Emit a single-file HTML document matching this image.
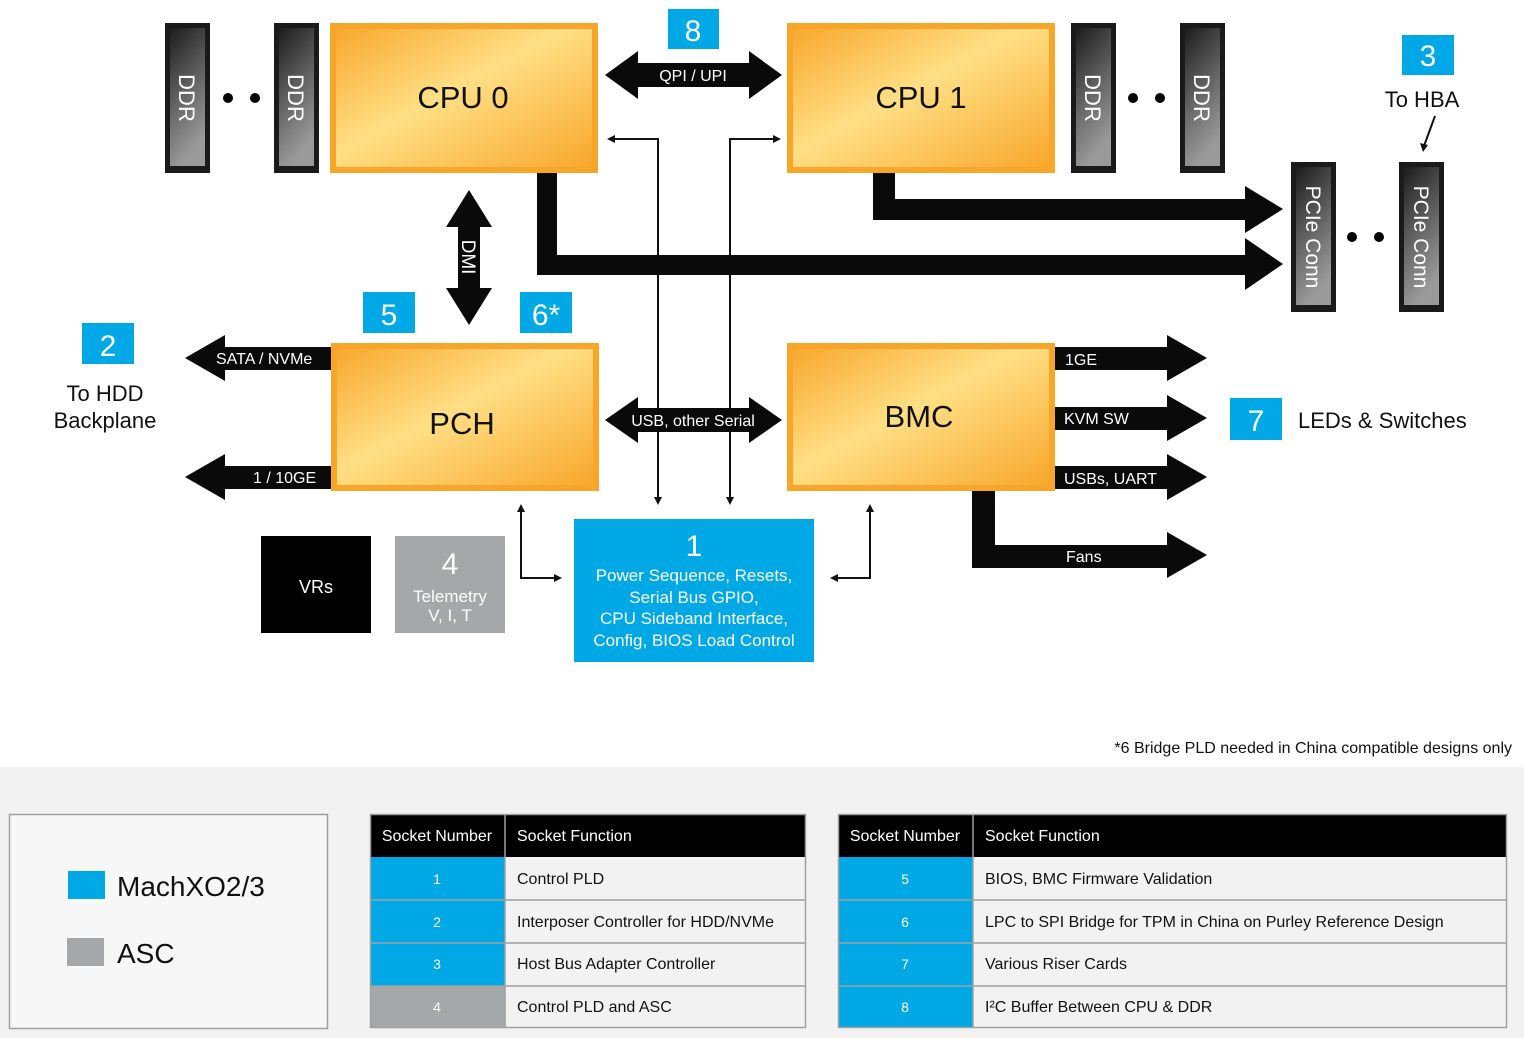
<!DOCTYPE html>
<html><head><meta charset="utf-8"><style>
html,body{margin:0;padding:0;background:#fff;}
svg{display:block;font-family:"Liberation Sans",Arial,sans-serif;}
</style></head><body>
<svg width="1524" height="1038" viewBox="0 0 1524 1038" xmlns="http://www.w3.org/2000/svg">
<defs>
<linearGradient id="og" x1="0" y1="0" x2="1" y2="1">
<stop offset="0" stop-color="#f8a62a"/><stop offset="0.45" stop-color="#ffdf85"/><stop offset="1" stop-color="#f8a62a"/>
</linearGradient>
<linearGradient id="dg" x1="0" y1="0" x2="0.3" y2="1">
<stop offset="0" stop-color="#1c1c1c"/><stop offset="0.6" stop-color="#6a6a6a"/><stop offset="1" stop-color="#9a9a9a"/>
</linearGradient>
</defs>
<g id="ddr">
<rect x="165" y="23" width="45" height="150" fill="#1a1a1a"/><rect x="170" y="28" width="35" height="138" fill="url(#dg)"/>
<rect x="274" y="23" width="45" height="150" fill="#1a1a1a"/><rect x="279" y="28" width="35" height="138" fill="url(#dg)"/>
<rect x="1071" y="23" width="45" height="150" fill="#1a1a1a"/><rect x="1076" y="28" width="35" height="138" fill="url(#dg)"/>
<rect x="1180" y="23" width="45" height="150" fill="#1a1a1a"/><rect x="1185" y="28" width="35" height="138" fill="url(#dg)"/>
<rect x="1291" y="162" width="45" height="150" fill="#1a1a1a"/><rect x="1296" y="167" width="35" height="138" fill="url(#dg)"/>
<rect x="1399" y="162" width="45" height="150" fill="#1a1a1a"/><rect x="1404" y="167" width="35" height="138" fill="url(#dg)"/>
<g fill="#fff" font-size="22" text-anchor="middle">
<text transform="translate(179,98) rotate(90)">DDR</text>
<text transform="translate(288,98) rotate(90)">DDR</text>
<text transform="translate(1085,98) rotate(90)">DDR</text>
<text transform="translate(1194,98) rotate(90)">DDR</text>
<text transform="translate(1306,237) rotate(90)" font-size="21">PCIe Conn</text>
<text transform="translate(1414,237) rotate(90)" font-size="21">PCIe Conn</text>
</g>
<g fill="#000"><circle cx="228" cy="98" r="5"/><circle cx="255" cy="98" r="5"/><circle cx="1133" cy="98" r="5"/><circle cx="1160" cy="98" r="5"/><circle cx="1352" cy="237" r="5"/><circle cx="1379" cy="237" r="5"/></g>
</g>
<!-- thin lines -->
<g stroke="#111" stroke-width="2" fill="none">
<polyline points="612,139 658,139 658,500"/>
<polyline points="776,139 730,139 730,500"/>
<polyline points="521,510 521,578 556,578"/>
<polyline points="870,510 870,578 836,578"/>
<line x1="1435" y1="116" x2="1424" y2="146"/>
</g>
<g fill="#111">
<polygon points="607,139 615,135 615,143"/>
<polygon points="781,139 773,135 773,143"/>
<polygon points="658,505 654,497 662,497"/>
<polygon points="730,505 726,497 734,497"/>
<polygon points="521,504 517,512 525,512"/>
<polygon points="870,504 866,512 874,512"/>
<polygon points="562,578 554,574 554,582"/>
<polygon points="830,578 838,574 838,582"/>
<polygon points="1423,152 1420,143 1428,145"/>
</g>
<!-- buses -->
<g fill="#0a0a0a">
<polygon points="537,173 557,173 557,255 1245,255 1245,238 1283,264 1245,290 1245,275 537,275"/>
<polygon points="873,173 895,173 895,199 1245,199 1245,186 1283,209 1245,233 1245,220 873,220"/>
<polygon points="605,75 638,51 638,63 749,63 749,51 782,75 749,99 749,87 638,87 638,99"/>
<polygon points="605,420 638,397 638,408 749,408 749,397 782,420 749,443 749,432 638,432 638,443"/>
<polygon points="469,190 492,227 480,227 480,288 492,288 469,325 446,288 458,288 458,227 446,227"/>
<polygon points="185,358 225,335 225,347 331,347 331,370 225,370 225,381"/>
<polygon points="185,477 225,454 225,466 331,466 331,489 225,489 225,500"/>
<polygon points="1055,347 1167,347 1167,335 1207,358 1167,381 1167,370 1055,370"/>
<polygon points="1055,407 1167,407 1167,395 1207,418 1167,441 1167,430 1055,430"/>
<polygon points="1055,466 1167,466 1167,454 1207,477 1167,500 1167,489 1055,489"/>
<polygon points="972,491 995,491 995,545 1167,545 1167,532 1207,555 1167,578 1167,568 972,568"/>
</g>
<g fill="#fff" font-size="16">
<text x="693" y="81" text-anchor="middle">QPI / UPI</text>
<text x="693" y="426" text-anchor="middle">USB, other Serial</text>
<text transform="translate(462,257) rotate(90)" text-anchor="middle" font-size="19">DMI</text>
<text x="216" y="364">SATA / NVMe</text>
<text x="253" y="483">1 / 10GE</text>
<text x="1065" y="365">1GE</text>
<text x="1064" y="424">KVM SW</text>
<text x="1064" y="484">USBs, UART</text>
<text x="1066" y="562">Fans</text>
</g>
<!-- orange boxes -->
<g stroke="#f8a62a" stroke-width="6" fill="url(#og)">
<rect x="333" y="26" width="262" height="144"/>
<rect x="790" y="26" width="262" height="144"/>
<rect x="334" y="346" width="262" height="142"/>
<rect x="790" y="346" width="262" height="142"/>
</g>
<g font-size="31" text-anchor="middle" fill="#111">
<text x="463" y="108">CPU 0</text>
<text x="921" y="108">CPU 1</text>
<text x="462" y="434">PCH</text>
<text x="919" y="427">BMC</text>
</g>
<!-- blue labels -->
<g fill="#00a9e6">
<rect x="668" y="9" width="51" height="40"/>
<rect x="1402" y="35" width="52" height="40"/>
<rect x="363" y="292" width="52" height="41"/>
<rect x="520" y="292" width="52" height="41"/>
<rect x="82" y="323" width="52" height="41"/>
<rect x="1230" y="398" width="52" height="42"/>
<rect x="574" y="519" width="240" height="143"/>
</g>
<g fill="#fff" font-size="30" text-anchor="middle">
<text x="693" y="41">8</text>
<text x="1428" y="66">3</text>
<text x="389" y="325">5</text>
<text x="546" y="325">6*</text>
<text x="108" y="356">2</text>
<text x="1256" y="431">7</text>
<text x="694" y="556">1</text>
<g font-size="17"><text x="694" y="581">Power Sequence, Resets,</text><text x="694" y="603">Serial Bus GPIO,</text><text x="694" y="624">CPU Sideband Interface,</text><text x="694" y="646">Config, BIOS Load Control</text></g>
</g>
<rect x="261" y="536" width="110" height="97" fill="#000"/>
<rect x="395" y="536" width="110" height="97" fill="#a6a7a9"/>
<text x="316" y="593" fill="#fff" font-size="18" text-anchor="middle">VRs</text>
<g fill="#fff" text-anchor="middle"><text x="450" y="574" font-size="30">4</text><text x="450" y="602" font-size="17">Telemetry</text><text x="450" y="621" font-size="17">V, I, T</text></g>
<g fill="#111" font-size="22">
<text x="1422" y="107" text-anchor="middle">To HBA</text>
<text x="105" y="401" text-anchor="middle">To HDD</text>
<text x="105" y="428" text-anchor="middle">Backplane</text>
<text x="1298" y="428">LEDs &amp; Switches</text>
<text x="1512" y="753" text-anchor="end" font-size="16">*6 Bridge PLD needed in China compatible designs only</text>
</g>
<!-- bottom -->
<rect x="0" y="767" width="1524" height="271" fill="#f2f2f2"/>
<rect x="9.5" y="814.5" width="318" height="214" fill="#f7f7f7" stroke="#a0a0a0" stroke-width="1.5"/>
<rect x="68" y="871" width="37" height="28" fill="#00a9e6"/>
<rect x="67" y="938" width="37" height="28" fill="#a6a7a9"/>
<text x="117" y="896" font-size="28" fill="#111">MachXO2/3</text>
<text x="117" y="963" font-size="28" fill="#111">ASC</text>
<g font-size="16">
<rect x="370" y="814" width="436" height="43" fill="#000"/>
<rect x="370" y="857" width="135" height="171" fill="#00a9e6"/>
<rect x="370" y="986" width="135" height="42" fill="#a6a7a9"/>
<rect x="505" y="857" width="301" height="171" fill="#f2f2f2"/>
<g stroke="#a0a0a0" stroke-width="1.5" fill="none"><rect x="370.5" y="814.5" width="435" height="213"/><line x1="370" y1="900" x2="806" y2="900"/><line x1="370" y1="943" x2="806" y2="943"/><line x1="370" y1="986" x2="806" y2="986"/><line x1="505" y1="814" x2="505" y2="1028"/></g>
<text x="437" y="841" fill="#fff" text-anchor="middle">Socket Number</text><text x="517" y="841" fill="#fff">Socket Function</text>
<g fill="#fff" text-anchor="middle" font-size="14"><text x="437" y="884">1</text><text x="437" y="927">2</text><text x="437" y="969">3</text><text x="437" y="1012">4</text></g>
<g fill="#111"><text x="517" y="884">Control PLD</text><text x="517" y="927">Interposer Controller for HDD/NVMe</text><text x="517" y="969">Host Bus Adapter Controller</text><text x="517" y="1012">Control PLD and ASC</text></g>

<rect x="838" y="814" width="669" height="43" fill="#000"/>
<rect x="838" y="857" width="135" height="171" fill="#00a9e6"/>
<rect x="973" y="857" width="534" height="171" fill="#f2f2f2"/>
<g stroke="#a0a0a0" stroke-width="1.5" fill="none"><rect x="838.5" y="814.5" width="668" height="213"/><line x1="838" y1="900" x2="1507" y2="900"/><line x1="838" y1="943" x2="1507" y2="943"/><line x1="838" y1="986" x2="1507" y2="986"/><line x1="973" y1="814" x2="973" y2="1028"/></g>
<text x="905" y="841" fill="#fff" text-anchor="middle">Socket Number</text><text x="985" y="841" fill="#fff">Socket Function</text>
<g fill="#fff" text-anchor="middle" font-size="14"><text x="905" y="884">5</text><text x="905" y="927">6</text><text x="905" y="969">7</text><text x="905" y="1012">8</text></g>
<g fill="#111"><text x="985" y="884">BIOS, BMC Firmware Validation</text><text x="985" y="927">LPC to SPI Bridge for TPM in China on Purley Reference Design</text><text x="985" y="969">Various Riser Cards</text><text x="985" y="1012">I²C Buffer Between CPU &amp; DDR</text></g>
</g>
</svg>
</body></html>
